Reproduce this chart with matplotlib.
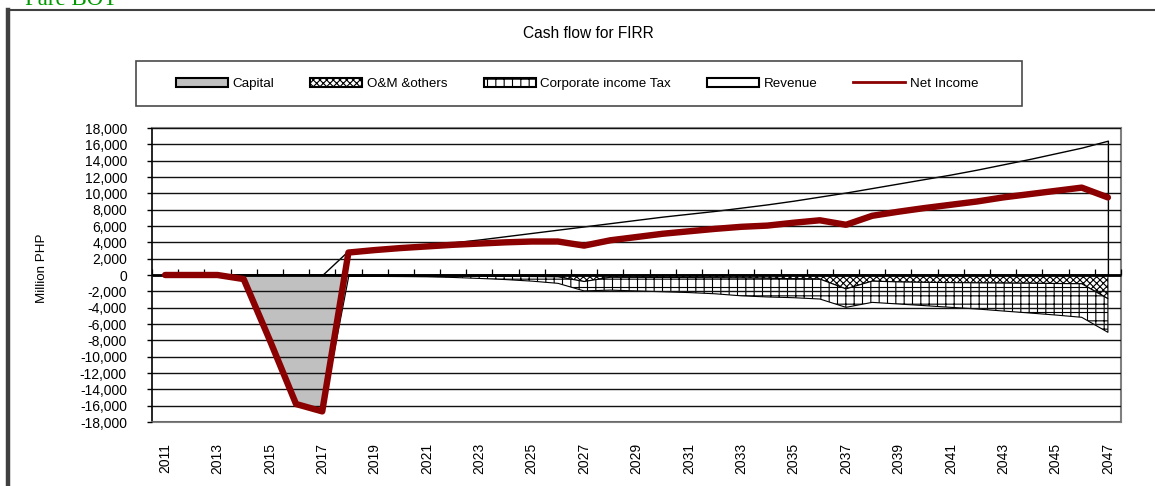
import numpy as np
import matplotlib
matplotlib.use("Agg")
import matplotlib.pyplot as plt
from matplotlib.patches import Patch, Rectangle
from matplotlib.lines import Line2D
from matplotlib.ticker import FuncFormatter

plt.rcParams['font.family'] = ['Liberation Sans', 'DejaVu Sans']
plt.rcParams['hatch.linewidth'] = 0.8

# Cash flow data, million PHP
years = list(range(2011, 2048))

capital = [0, 0, 0, -500, -8000, -15800, -16700, 0, 0, 0,
           0, 0, 0, 0, 0, 0, 0, 0, 0, 0,
           0, 0, 0, 0, 0, 0, 0, 0, 0, 0,
           0, 0, 0, 0, 0, 0, 0]

om_others = [0, 0, 0, 0, 0, 0, 0, -100, -100, -110,
             -120, -130, -150, -170, -190, -220, -800, -280, -290, -300,
             -320, -340, -360, -400, -450, -500, -1700, -750, -850, -900,
             -930, -960, -990, -1010, -1040, -1070, -2900]

corp_tax = [0, 0, 0, 0, 0, 0, 0, -50, -70, -80,
            -100, -170, -270, -390, -560, -800, -1150, -1570, -1660, -1750,
            -1830, -1960, -2190, -2290, -2330, -2440, -2260, -2600, -2700, -2850,
            -3030, -3200, -3420, -3640, -3860, -4110, -4120]

revenue = [0, 0, 0, 0, 0, 0, 0, 3000, 3250, 3500,
           3750, 4000, 4350, 4750, 5150, 5550, 5950, 6350, 6750, 7150,
           7500, 7850, 8250, 8650, 9100, 9600, 10100, 10650, 11200, 11750,
           12300, 12900, 13550, 14200, 14900, 15600, 16450]

net_income = [0, 0, 0, -500, -8000, -15800, -16700, 2750, 3050, 3300,
              3500, 3700, 3850, 4000, 4100, 4100, 3600, 4250, 4650, 5050,
              5350, 5650, 5900, 6050, 6400, 6700, 6150, 7250, 7750, 8200,
              8600, 9000, 9500, 9900, 10300, 10700, 9500]

W, H = 1155, 486
fig = plt.figure(figsize=(W / 100, H / 100), dpi=100)
fig.patch.set_facecolor('white')

# plot area in pixels: x 152..1121, y 128..422
ax = fig.add_axes([152 / W, 1 - 422 / H, (1121 - 152) / W, (422 - 128) / H])

x = np.array(years)
om_arr = np.array(om_others)
tax_bottom = om_arr + np.array(corp_tax)

ax.fill_between(x, 0, revenue, facecolor='white', edgecolor='black', lw=1.0, zorder=1)
ax.fill_between(x, 0, capital, facecolor='#C0C0C0', edgecolor='black', lw=0.8, zorder=1.2)
ax.fill_between(x, 0, om_arr, facecolor='white', edgecolor='black', hatch='xxxxx', lw=0.8, zorder=1.4)
ax.fill_between(x, om_arr, tax_bottom, facecolor='white', edgecolor='black', hatch='++', lw=0.8, zorder=1.4)

ax.plot(x, net_income, color='#8B0000', lw=4.6, solid_capstyle='round', zorder=4)

ax.set_xlim(years[0] - 0.5, years[-1] + 0.5)
ax.set_ylim(-18000, 18000)

ax.set_yticks(np.arange(-18000, 18001, 2000))
ax.yaxis.set_major_formatter(FuncFormatter(lambda v, p: f'{int(v):,}'))
ax.tick_params(axis='y', direction='out', length=3.6, width=1, pad=14.4, labelsize=10, colors='black')
ax.set_axisbelow(False)
ax.yaxis.grid(True, color='#111111', lw=1.0, zorder=2.5)

ax.set_xticks(years[::2])
ax.set_xticklabels([str(y) for y in years[::2]], rotation=90)
ax.tick_params(axis='x', length=0, pad=15, labelsize=10)

for side in ['top', 'right', 'bottom']:
    ax.spines[side].set_color('#808080')
    ax.spines[side].set_linewidth(1.5)
ax.spines['left'].set_color('black')
ax.spines['left'].set_linewidth(1.2)

# category axis crossing at zero with ticks between categories
sec = ax.secondary_xaxis(0.5)
sec.set_xticks(np.arange(years[0] - 0.5, years[-1] + 1, 1.0))
sec.tick_params(axis='x', direction='out', length=4, width=0.9, labeltop=False, labelbottom=False)
for sp in sec.spines.values():
    sp.set_linewidth(2.0)
    sp.set_color('black')
    sp.set_capstyle('butt')
sec.set_zorder(2.7)

fig.text(42 / W, 1 - 268 / H, 'Million PHP', rotation=90, ha='center', va='center', fontsize=9.6)
fig.text(588 / W, 1 - 34 / H, 'Cash flow for FIRR', ha='center', va='center', fontsize=11.2)

# legend
handles = [
    Patch(facecolor='#C0C0C0', edgecolor='black', lw=1.5),
    Patch(facecolor='white', edgecolor='black', hatch='xxxxx', lw=1.5),
    Patch(facecolor='white', edgecolor='black', hatch='++', lw=1.5),
    Patch(facecolor='white', edgecolor='black', lw=1.5),
    Line2D([], [], color='#8B0000', lw=2),
]
labels = ['Capital', 'O&M &others', 'Corporate income Tax', 'Revenue', 'Net Income']
fig.legend(handles, labels, ncol=5, loc='center left',
           bbox_to_anchor=(176 / W, 1 - 84 / H), frameon=False,
           fontsize=9.6, handlelength=3.9, handleheight=0.75,
           handletextpad=0.35, columnspacing=2.7, borderpad=0, borderaxespad=0)
fig.add_artist(Rectangle((136 / W, 1 - 106 / H), (1022 - 136) / W, 45 / H,
                         transform=fig.transFigure, fill=False,
                         edgecolor='#4a4a4a', lw=1.2))

# outer chart frame
fig.add_artist(Line2D([8 / W, 1], [1 - 10.5 / H, 1 - 10.5 / H],
                      transform=fig.transFigure, color='#404040', lw=1.5))
fig.add_artist(Line2D([8 / W, 8 / W], [0, 1 - 10 / H],
                      transform=fig.transFigure, color='#404040', lw=3.2))

fig.text(25 / W, 1 - 5 / H, 'Fare BOT', ha='left', va='baseline',
         family=['Liberation Serif', 'DejaVu Serif'], fontsize=16.5, color='#009900')

fig.savefig('out.png', dpi=100, facecolor='white')
